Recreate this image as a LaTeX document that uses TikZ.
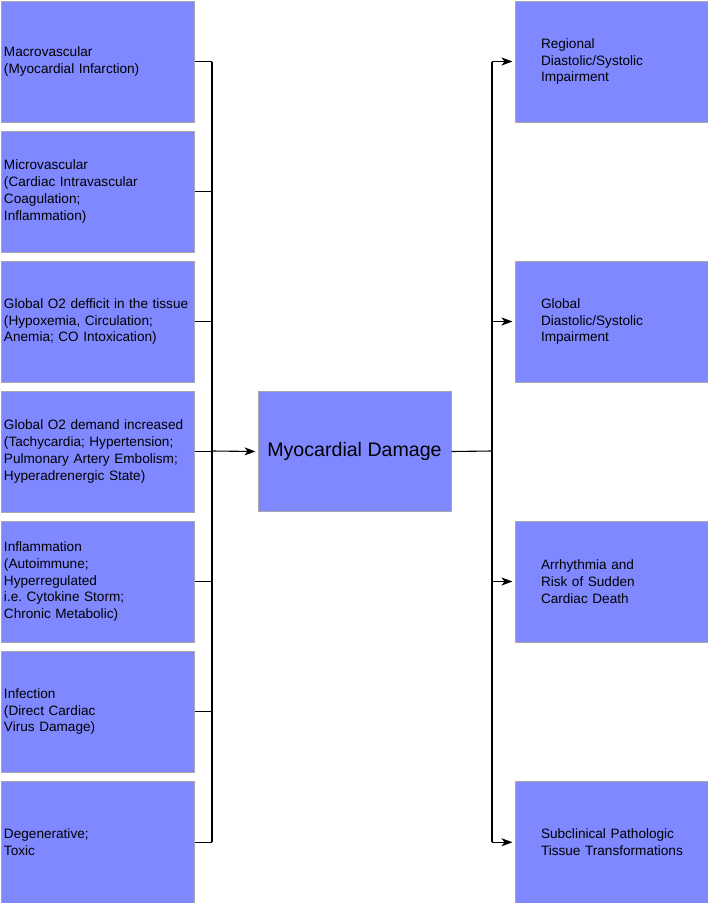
\documentclass[tikz,border=0pt]{standalone}
\usepackage{fontspec}
\setmainfont{Liberation Sans}
\usetikzlibrary{arrows.meta}
\frenchspacing
\hbadness=10000 \hfuzz=100pt
\definecolor{boxfill}{HTML}{7F88FF}
\definecolor{boxline}{HTML}{A8A8A8}
\tikzset{
  leftbox/.style={draw=boxline, line width=1pt, fill=boxfill, anchor=north west,
    minimum height=121pt, text width=187pt, inner xsep=3pt, inner ysep=0pt, align=left,
    font=\fontsize{13.6}{16.7}\selectfont},
  rightbox/.style={draw=boxline, line width=1pt, fill=boxfill, anchor=north west,
    minimum height=121pt, text width=141pt, inner xsep=26pt, inner ysep=0pt, align=left,
    font=\fontsize{13.6}{16.7}\selectfont},
  centerbox/.style={draw=boxline, line width=1pt, fill=boxfill, anchor=north west,
    minimum height=120pt, minimum width=193pt, inner sep=0pt,
    font=\fontsize{19.6}{23}\selectfont},
  conn/.style={draw=black, line width=1.1pt},
  arr/.style={conn, -{Stealth[length=11pt,width=8pt,inset=3pt]}, shorten >=2pt}
}
\begin{document}
\begin{tikzpicture}[x=1pt,y=-1pt]
\useasboundingbox (0,0) rectangle (708,903);
\node[leftbox] (L1) at (0.5,0.5) {Macrovascular\\(Myocardial Infarction)};
\node[leftbox] (L2) at (0.5,130.5) {Microvascular\\(Cardiac Intravascular\\Coagulation;\\Inflammation)};
\node[leftbox] (L3) at (0.5,260.5) {Global O2 defficit in the tissue\\(Hypoxemia, Circulation;\\Anemia; CO Intoxication)};
\node[leftbox] (L4) at (0.5,390.5) {Global O2 demand increased\\(Tachycardia; Hypertension;\\Pulmonary Artery Embolism;\\Hyperadrenergic State)};
\node[leftbox] (L5) at (0.5,520.5) {Inflammation\\(Autoimmune;\\Hyperregulated\\i.e. Cytokine Storm;\\Chronic Metabolic)};
\node[leftbox] (L6) at (0.5,650.5) {Infection\\(Direct Cardiac\\Virus Damage)};
\node[leftbox, minimum height=121.5pt] (L7) at (0.5,781) {Degenerative;\\Toxic};

\node[centerbox] (C) at (257.5,391) {Myocardial Damage};

\node[rightbox] (R1) at (514.5,0.5) {Regional\\\mbox{Diastolic/Systolic}\\Impairment};
\node[rightbox] (R2) at (514.5,260.5) {Global\\\mbox{Diastolic/Systolic}\\Impairment};
\node[rightbox] (R3) at (514.5,520.5) {Arrhythmia and\\Risk of Sudden\\Cardiac Death};
\node[rightbox, minimum height=121.5pt] (R4) at (514.5,781) {\mbox{Subclinical Pathologic}\\\mbox{Tissue Transformations}};

\coordinate (busL) at (212,451);
\coordinate (busR) at (492,451);

\foreach \n in {L1,L2,L3,L4,L5,L6,L7}{
  \draw[conn] (\n.east) -- (\n.east -| busL);
}
\draw[conn] (L1.east -| busL) -- (L7.east -| busL);
\draw[arr] (busL) -- (C.west);

\draw[conn] (C.east) -- (busR);
\draw[conn] (R1.west -| busR) -- (R4.west -| busR);
\foreach \n in {R1,R2,R3,R4}{
  \draw[arr] (\n.west -| busR) -- (\n.west);
}
\end{tikzpicture}
\end{document}
